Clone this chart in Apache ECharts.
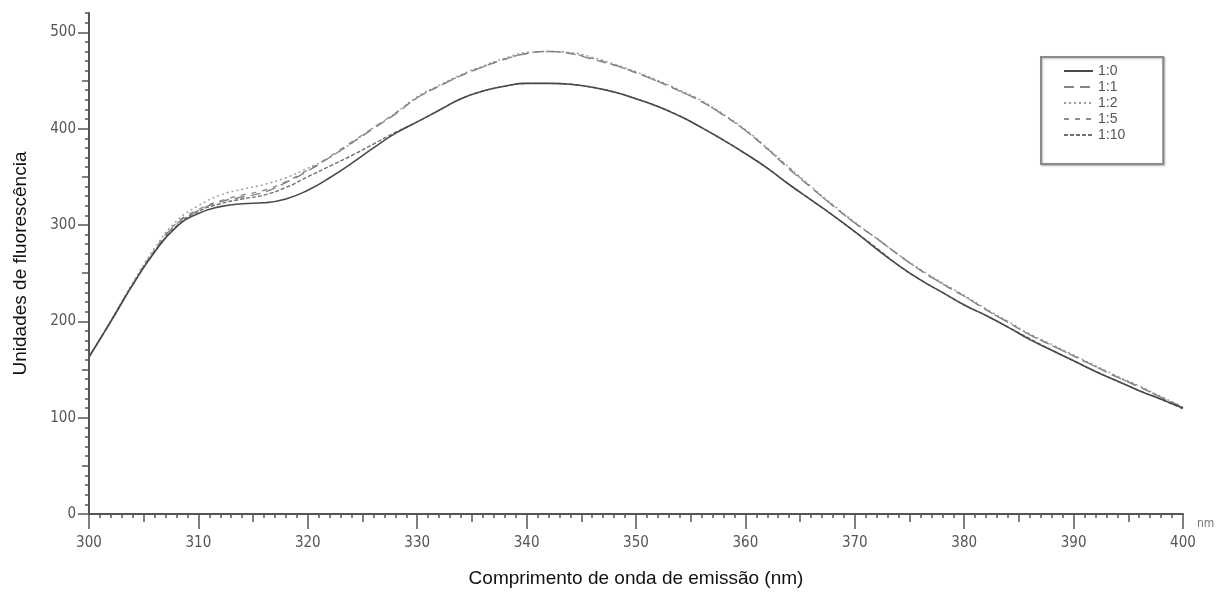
<!DOCTYPE html>
<html>
<head>
<meta charset="utf-8">
<script src="https://cdn.jsdelivr.net/npm/echarts@6/dist/echarts.min.js"></script>
<style>
html,body{margin:0;padding:0;background:#fff;}
#chart{width:1227px;height:594px;}
</style>
</head>
<body>
<div id="chart"></div>
<script>
// wavelengths (nm), every 2 nm
const wavelengths = [300,302,304,306,308,310,312,314,316,318,320,322,324,326,328,330,332,334,336,338,340,342,344,346,348,350,352,354,356,358,360,362,364,366,368,370,372,374,376,378,380,382,384,386,388,390,392,394,396,398,400];
const seriesNames = ['1:0','1:1','1:2','1:5','1:10'];
const s1_0  = [163,200,238,272,298,312,319,322,323,327,336,349,364,380,395,407,419,431,439,444,447,447,446,443,438,431,423,413,401,388,374,359,342,326,310,293,275,258,243,230,217,206,194,181,170,159,148,138,128,119,110];
const s1_1  = [163,200,238,273,301,315,324,329,334,344,356,370,385,400,415,432,444,455,464,472,478,480,478,472,466,458,449,439,428,414,398,379,358,339,320,302,286,269,253,239,226,212,199,186,175,164,153,142,132,121,111];
const s1_2  = [163,201,240,276,304,320,331,337,342,349,359,370,385,401,416,433,445,456,465,473,479,480,479,474,467,459,450,440,429,415,399,380,360,340,321,303,286,269,254,240,227,213,200,187,176,165,154,143,133,122,111];
const s1_5  = [163,200,239,274,302,316,325,331,336,345,357,371,386,401,416,432,444,455,464,472,478,480,478,473,466,458,449,439,428,414,398,379,359,339,320,302,286,269,253,239,226,212,199,186,175,164,153,142,132,121,110];
const s1_10 = [163,200,238,272,299,314,322,327,331,339,350,361,372,384,396,407,419,431,439,444,447,447,446,443,438,431,423,413,401,388,374,359,342,326,310,293,276,258,243,230,217,206,194,182,170,159,148,138,128,119,109];
const yTickLabels = [0,100,200,300,400,500];
const yMidTicks = [50,150,250,350,450];
const xTickLabels = [300,310,320,330,340,350,360,370,380,390,400];
const xMidTicks = [305,315,325,335,345,355,365,375,385,395];

const allValues = [s1_0,s1_1,s1_2,s1_5,s1_10];
const styles = [
  {color:'#4a4a4a', width:1.6, type:'solid'},
  {color:'#858585', width:1.4, type:[10,6]},
  {color:'#9c9c9c', width:1.4, type:[2,3]},
  {color:'#8e8e8e', width:1.4, type:[5,6]},
  {color:'#707070', width:1.4, type:[4,2]}
];

const series = seriesNames.map((name,i)=>({
  name: name,
  type: 'line',
  smooth: true,
  symbol: 'none',
  xAxisIndex: 0,
  yAxisIndex: 0,
  z: 10 - i,
  data: wavelengths.map((x,j)=>[x, allValues[i][j]]),
  lineStyle: styles[i],
  itemStyle: {color: styles[i].color}
}));

const axisColor = '#555';
const tickFont = 'DejaVu Sans Condensed, Liberation Sans Narrow, Arial, sans-serif';
const titleFont = 'Liberation Sans, Arial, sans-serif';

function xAxisBase(extra){
  return Object.assign({
    type: 'value', min: 300, max: 400, position: 'bottom', offset: 0,
    splitLine: {show: false},
    axisLine: {show: false, onZero: false},
    axisLabel: {show: false}
  }, extra);
}
function yAxisBase(extra){
  return Object.assign({
    type: 'value', min: 0, max: 520, position: 'left', offset: 0,
    splitLine: {show: false},
    axisLine: {show: false},
    axisLabel: {show: false}
  }, extra);
}

const chart = echarts.init(document.getElementById('chart'), null, {renderer:'canvas'});
chart.setOption({
  animation: false,
  backgroundColor: '#fff',
  grid: {left: 89, right: 44, top: 13, bottom: 80},
  legend: {
    orient: 'vertical',
    left: 1041,
    top: 57,
    padding: [7, 38, 22, 22],
    itemWidth: 29,
    itemHeight: 14,
    itemGap: 2,
    borderColor: '#8a8a8a',
    borderWidth: 2,
    shadowColor: 'rgba(0,0,0,0.25)',
    shadowBlur: 2,
    shadowOffsetX: 1,
    shadowOffsetY: 1,
    backgroundColor: '#fff',
    itemStyle: {opacity: 0},
    textStyle: {fontFamily: titleFont, fontSize: 14, color: '#555'},
    data: seriesNames
  },
  xAxis: [
    xAxisBase({
      interval: 1,
      name: 'Comprimento de onda de emissão (nm)',
      nameLocation: 'middle',
      nameGap: 55,
      nameTextStyle: {fontFamily: titleFont, fontSize: 19, color: '#111'},
      axisLine: {show: true, onZero: false, lineStyle: {color: axisColor, width: 2}},
      axisTick: {show: true, length: 4, lineStyle: {color: axisColor, width: 1.5}}
    }),
    xAxisBase({
      axisTick: {show: true, length: 8, customValues: xMidTicks, lineStyle: {color: axisColor, width: 1.5}}
    }),
    xAxisBase({
      axisTick: {show: true, length: 15, customValues: xTickLabels, lineStyle: {color: axisColor, width: 1.5}},
      axisLabel: {show: true, customValues: xTickLabels, fontFamily: tickFont, fontSize: 15, color: axisColor, margin: 22}
    })
  ],
  yAxis: [
    yAxisBase({
      interval: 10,
      name: 'Unidades de fluorescência',
      nameLocation: 'middle',
      nameGap: 59,
      nameTextStyle: {fontFamily: titleFont, fontSize: 19, color: '#111'},
      axisLine: {show: true, lineStyle: {color: axisColor, width: 2}},
      axisTick: {show: true, length: 4, lineStyle: {color: axisColor, width: 1.5}}
    }),
    yAxisBase({
      axisTick: {show: true, length: 7, customValues: yMidTicks, lineStyle: {color: axisColor, width: 1.5}}
    }),
    yAxisBase({
      axisTick: {show: true, length: 11, customValues: yTickLabels, lineStyle: {color: axisColor, width: 1.5}},
      axisLabel: {show: true, customValues: yTickLabels, fontFamily: tickFont, fontSize: 15, color: axisColor, margin: 13}
    })
  ],
  graphic: [{
    type: 'text',
    left: 1197,
    top: 518,
    style: {text: 'nm', fontFamily: tickFont, fontSize: 12, fill: '#777'}
  }],
  series: series
});
</script>
</body>
</html>
